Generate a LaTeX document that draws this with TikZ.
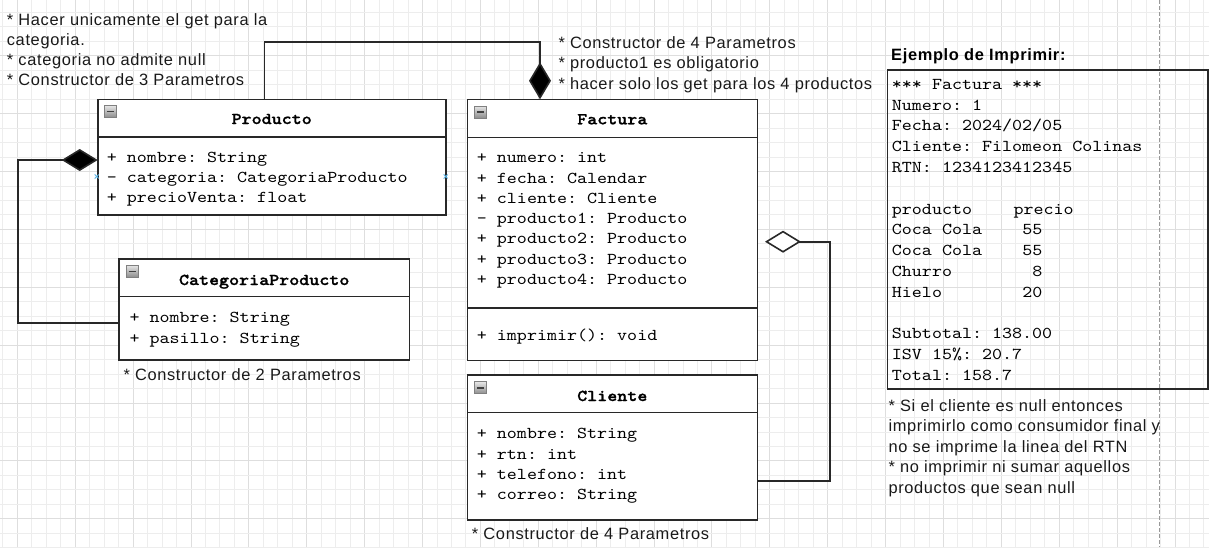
\documentclass[tikz,border=0pt]{standalone}
\usepackage{fontspec}
\usetikzlibrary{arrows.meta,shadings}
\newfontfamily\notefont{Liberation Sans}[LetterSpace=4]
\newfontfamily\codefont{lmmono10-regular}[Extension=.otf,BoldFont=lmmonolt10-bold,BoldFeatures={FakeBold=1.2},FakeStretch=1.15]
\newcommand\mycodesize{\fontsize{16.6}{20}\selectfont}
\newcommand\mynotesize{\fontsize{16.4}{20}\selectfont}
\definecolor{linec}{RGB}{40,40,40}
\definecolor{bluex}{RGB}{90,180,230}
\tikzset{
  classbox/.style={draw=linec,line width=1.6pt,fill=white,inner sep=0pt,outer sep=0pt,anchor=north west},
  recbox/.style={draw=linec,line width=1.6pt,inner sep=0pt,outer sep=0pt,anchor=north west},
  sepline/.style={draw=linec,line width=1.6pt},
  conn/.style={draw=linec,line width=1.6pt},
  code/.style={font=\codefont\mycodesize\frenchspacing,anchor=base west,inner sep=0pt,text=black},
  codetitle/.style={font=\codefont\mycodesize\bfseries,anchor=base,inner sep=0pt,text=black},
  note/.style={font=\notefont\mynotesize,anchor=base west,inner sep=0pt,text=black!90},
  notebold/.style={font=\notefont\mynotesize\bfseries,anchor=base west,inner sep=0pt,text=black},
  minusicon/.style={draw=black!50,line width=0.8pt,minimum size=12pt,inner sep=0pt,
    top color=black!10,bottom color=black!45,
    path picture={\draw[black!75,line width=1.6pt]
      ([xshift=2.5pt]path picture bounding box.west) -- ([xshift=-2.5pt]path picture bounding box.east);}},
  gridmin/.style={draw=black!7,line width=0.8pt},
  gridmaj/.style={draw=black!13,line width=0.8pt},
  bluemark/.style={draw=bluex,line width=0.8pt},
}
\begin{document}
\frenchspacing
\begin{tikzpicture}[x=1pt,y=-1pt]
\useasboundingbox (0,0) rectangle (1209,547);
\fill[white] (0,0) rectangle (1209,547);
% grid
\foreach \i in {-1,...,82}{
  \pgfmathtruncatemacro\m{mod(\i+4,4)}
  \ifnum\m=0 \draw[gridmaj] ({17.3+14.47*\i},0) -- ({17.3+14.47*\i},547);
  \else \draw[gridmin] ({17.3+14.47*\i},0) -- ({17.3+14.47*\i},547); \fi
}
\foreach \j in {-1,...,37}{
  \pgfmathtruncatemacro\m{mod(\j+4,4)}
  \ifnum\m=3 \draw[gridmaj] (0,{12.3+14.47*\j}) -- (1209,{12.3+14.47*\j});
  \else \draw[gridmin] (0,{12.3+14.47*\j}) -- (1209,{12.3+14.47*\j}); \fi
}
\draw[black!40,line width=0.8pt,dash pattern=on 4pt off 2pt] (1159.3,0) -- (1159.3,547);

% ---------- Producto ----------
\node[classbox,minimum width=348pt,minimum height=115.4pt] (prod) at (97.7,99.3) {};
\draw[sepline] (97.7,137) -- (445.7,137);
\node[minusicon] (prodicon) at (110.5,111.5) {};
\node[codetitle] (prodtitle) at (271.7,124) {Producto};
\node[code] (prodA1) at (106.7,162.5) {+ nombre: String};
\node[code] (prodA2) at (106.7,182.5) {- categoria: CategoriaProducto};
\node[code] (prodA3) at (106.7,202.5) {+ precioVenta: float};
\draw[bluemark] (94.7,174.5) -- (98.7,178.5) (94.7,178.5) -- (98.7,174.5);
\draw[bluemark] (443.7,174.5) -- (447.7,178.5) (443.7,178.5) -- (447.7,174.5);

% ---------- CategoriaProducto ----------
\node[classbox,minimum width=290.3pt,minimum height=101pt] (cat) at (119,259) {};
\draw[sepline] (119,296.3) -- (409.3,296.3);
\node[minusicon] (caticon) at (132.2,271.3) {};
\node[codetitle] (cattitle) at (264.2,285) {CategoriaProducto};
\node[code] (catA1) at (129.3,322.7) {+ nombre: String};
\node[code] (catA2) at (129.3,343.3) {+ pasillo: String};

% ---------- Factura ----------
\node[classbox,minimum width=290pt,minimum height=261pt] (fact) at (467.3,99.3) {};
\draw[sepline] (467.3,137.3) -- (757.3,137.3);
\draw[sepline] (467.3,308) -- (757.3,308);
\node[minusicon] (facticon) at (480.5,112) {};
\node[codetitle] (facttitle) at (612.3,124.3) {Factura};
\node[code] (factA1) at (476.7,162.7) {+ numero: int};
\node[code] (factA2) at (476.7,183) {+ fecha: Calendar};
\node[code] (factA3) at (476.7,203.3) {+ cliente: Cliente};
\node[code] (factA4) at (476.7,223.6) {- producto1: Producto};
\node[code] (factA5) at (476.7,243.9) {+ producto2: Producto};
\node[code] (factA6) at (476.7,264.2) {+ producto3: Producto};
\node[code] (factA7) at (476.7,284.5) {+ producto4: Producto};
\node[code] (factM1) at (476.7,340) {+ imprimir(): void};

% ---------- Cliente ----------
\node[classbox,minimum width=290pt,minimum height=145pt] (cli) at (467.3,375) {};
\draw[sepline] (467.3,412.3) -- (757.3,412.3);
\node[minusicon] (cliicon) at (480.4,387.8) {};
\node[codetitle] (clititle) at (612.3,401) {Cliente};
\node[code] (cliA1) at (476.7,438.3) {+ nombre: String};
\node[code] (cliA2) at (476.7,459) {+ rtn: int};
\node[code] (cliA3) at (476.7,479) {+ telefono: int};
\node[code] (cliA4) at (476.7,499.3) {+ correo: String};

% ---------- notes ----------
\node[note] (n1a) at (6.7,25) {* Hacer unicamente el get para la};
\node[note] (n1b) at (6.7,45.7) {categoria.};
\node[note] (n1c) at (6.7,65.7) {* categoria no admite null};
\node[note] (n1d) at (6.7,85.7) {* Constructor de 3 Parametros};
\node[note] (n2a) at (558.3,48.3) {* Constructor de 4 Parametros};
\node[note] (n2b) at (558.3,68.3) {* producto1 es obligatorio};
\node[note] (n2c) at (558.3,89) {* hacer solo los get para los 4 productos};
\node[note] (n3) at (123.3,380) {* Constructor de 2 Parametros};
\node[note] (n4) at (471.7,539.3) {* Constructor de 4 Parametros};
\node[note] (n5a) at (888.3,411.7) {* Si el cliente es null entonces};
\node[note] (n5b) at (888.3,431.7) {imprimirlo como consumidor final y};
\node[note] (n5c) at (888.3,452.3) {no se imprime la linea del RTN};
\node[note] (n5d) at (888.3,472.7) {* no imprimir ni sumar aquellos};
\node[note] (n5e) at (888.3,493.3) {productos que sean null};

% ---------- receipt ----------
\node[notebold] (rectitle) at (891,60.3) {Ejemplo de Imprimir:};
\node[recbox,minimum width=320.4pt,minimum height=319pt] (rec) at (887.3,70) {};
\node[code] (r1) at (891.7,89.3) {*** Factura ***};
\node[code] (r2) at (891.7,110.1) {Numero: 1};
\node[code] (r3) at (891.7,130.9) {Fecha: 2024/02/05};
\node[code] (r4) at (891.7,151.7) {Cliente: Filomeon Colinas};
\node[code] (r5) at (891.7,172.5) {RTN: 1234123412345};
\node[code] (r6) at (891.7,214.1) {producto};
\node[code] (r6b) at (1013.3,214.1) {precio};
\node[code] (r7) at (891.7,234.9) {Coca Cola};
\node[code,anchor=base east] (r7b) at (1042.5,234.9) {55};
\node[code] (r8) at (891.7,255.7) {Coca Cola};
\node[code,anchor=base east] (r8b) at (1042.5,255.7) {55};
\node[code] (r9) at (891.7,276.5) {Churro};
\node[code,anchor=base east] (r9b) at (1042.5,276.5) {8};
\node[code] (r10) at (891.7,297.3) {Hielo};
\node[code,anchor=base east] (r10b) at (1042.5,297.3) {20};
\node[code] (r11) at (891.7,338.9) {Subtotal: 138.00};
\node[code] (r12) at (891.7,359.7) {ISV 15\%: 20.7};
\node[code] (r13) at (891.7,380.5) {Total: 158.7};

% ---------- connectors ----------
\coordinate (pL) at (97.7,160);
\coordinate (c1) at (17.7,160);
\coordinate (catL) at (119,322.7);
\draw[conn,-{Diamond[length=36pt,width=22pt,fill=black]}] (catL) -| (c1) -- (pL);

\coordinate (pT) at (264.3,99.3);
\coordinate (c2) at (540,41.7);
\coordinate (fT) at (540,99.3);
\draw[conn,-{Diamond[length=37pt,width=22pt,fill=black]}] (pT) |- (c2) -- (fT);

\coordinate (cliR) at (757.3,480.7);
\coordinate (c3) at (830,241.7);
\coordinate (aggTip) at (765,241.7);
\draw[conn,-{Diamond[length=36pt,width=22pt,fill=white]}] (cliR) -| (c3) -- (aggTip);
\end{tikzpicture}
\end{document}
